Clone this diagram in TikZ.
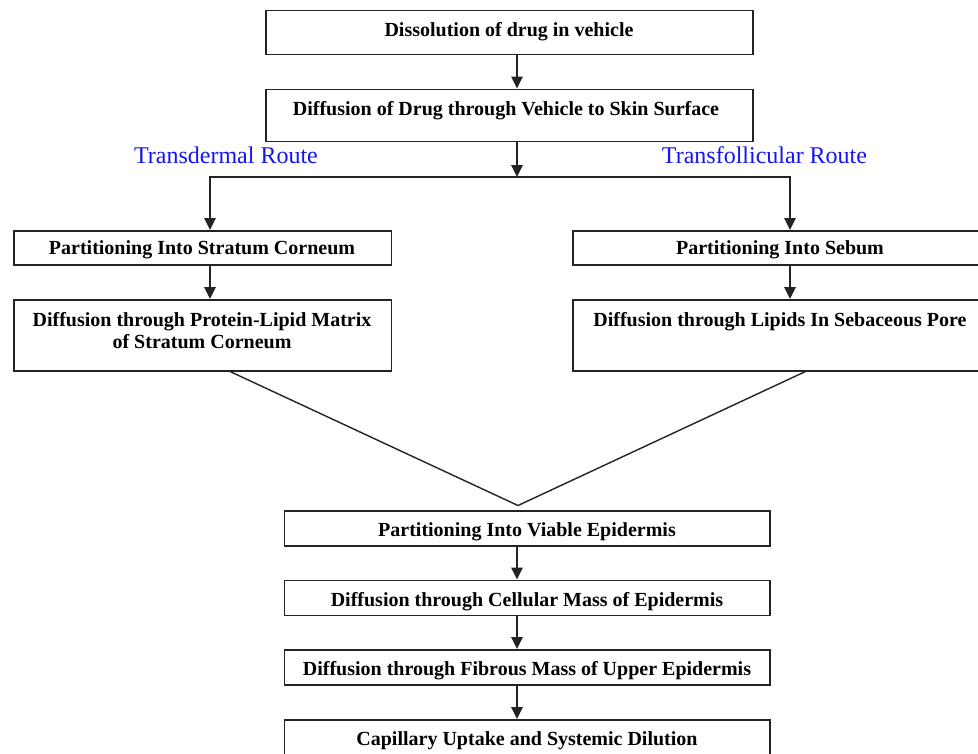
\documentclass[tikz,border=0pt]{standalone}
\usepackage{fontspec}
\setmainfont{Liberation Serif}
\usetikzlibrary{arrows.meta,calc}
\definecolor{edge}{RGB}{35,35,35}
\definecolor{routeblue}{RGB}{20,20,245}
\begin{document}
\begin{tikzpicture}[x=1pt,y=-1pt,
  box/.style={draw=edge,line width=1.5pt,rectangle,inner sep=0pt,anchor=north west},
  btxt/.style={font=\fontsize{20}{22}\selectfont\bfseries,anchor=base,inner sep=0pt},
  route/.style={font=\fontsize{24}{26}\selectfont,text=routeblue,anchor=base,inner sep=0pt},
  arr/.style={draw=edge,line width=1.4pt,-{Triangle[width=11.5pt,length=12pt]}},
  ln/.style={draw=edge,line width=1.4pt}]
\useasboundingbox (0,0) rectangle (978,753);
\clip (0,0) rectangle (978,753);
\fill[white] (0,0) rectangle (978,753);
% column coordinates
\coordinate (ax) at (517,0);
\coordinate (lx) at (210,0);
\coordinate (rx) at (790,0);
\coordinate (dl) at (230,0);
\coordinate (dr) at (805.5,0);
\coordinate (split) at (517,177);
\coordinate (apex) at (518,505.5);
% boxes
\node[box,minimum width=487pt,minimum height=44pt] (b1) at (265,9.5) {};
\node[box,minimum width=487pt,minimum height=52pt] (b2) at (265,88.5) {};
\node[box,minimum width=377.5pt,minimum height=34pt] (b3) at (13,230) {};
\node[box,minimum width=416pt,minimum height=34pt] (b4) at (572,230) {};
\node[box,minimum width=377.5pt,minimum height=71pt] (b5) at (13,299) {};
\node[box,minimum width=416pt,minimum height=71pt] (b6) at (572,299) {};
\node[box,minimum width=485.5pt,minimum height=35pt] (b7) at (283.5,510) {};
\node[box,minimum width=485.5pt,minimum height=35pt] (b8) at (283.5,579.5) {};
\node[box,minimum width=485.5pt,minimum height=35pt] (b9) at (283.5,649) {};
\node[box,minimum width=485.5pt,minimum height=40pt] (b10) at (283.5,719) {};
% texts
\node[btxt] (t1) at (509,36.5) {Dissolution of drug in vehicle};
\node[btxt] (t2) at (506,115) {Diffusion of Drug through Vehicle to Skin Surface};
\node[btxt] (t3) at (202,254.5) {Partitioning Into Stratum Corneum};
\node[btxt] (t4) at (780,254.5) {Partitioning Into Sebum};
\node[btxt] (t5a) at (202,326.5) {Diffusion through Protein-Lipid Matrix};
\node[btxt] (t5b) at (202,348) {of Stratum Corneum};
\node[btxt] (t6) at (780,326.5) {Diffusion through Lipids In Sebaceous Pore};
\node[btxt] (t7) at (527,536) {Partitioning Into Viable Epidermis};
\node[btxt] (t8) at (527,606) {Diffusion through Cellular Mass of Epidermis};
\node[btxt] (t9) at (527,675.5) {Diffusion through Fibrous Mass of Upper Epidermis};
\node[btxt] (t10) at (527,745) {Capillary Uptake and Systemic Dilution};
\node[route] (r1) at (226,163.5) {Transdermal Route};
\node[route] (r2) at (764.5,163.5) {Transfollicular Route};
% connectors
\draw[arr] (b1.south -| ax) -- (b2.north -| ax);
\draw[arr] (b2.south -| ax) -- (split);
\draw[arr] (split) -| (lx |- b3.north);
\draw[arr] (split) -| (rx |- b4.north);
\draw[arr] (b3.south -| lx) -- (b5.north -| lx);
\draw[arr] (b4.south -| rx) -- (b6.north -| rx);
\draw[ln] (b5.south -| dl) -- (apex) -- (b6.south -| dr);
\draw[arr] (b7.south -| ax) -- (b8.north -| ax);
\draw[arr] (b8.south -| ax) -- (b9.north -| ax);
\draw[arr] (b9.south -| ax) -- (b10.north -| ax);
\end{tikzpicture}
\end{document}
